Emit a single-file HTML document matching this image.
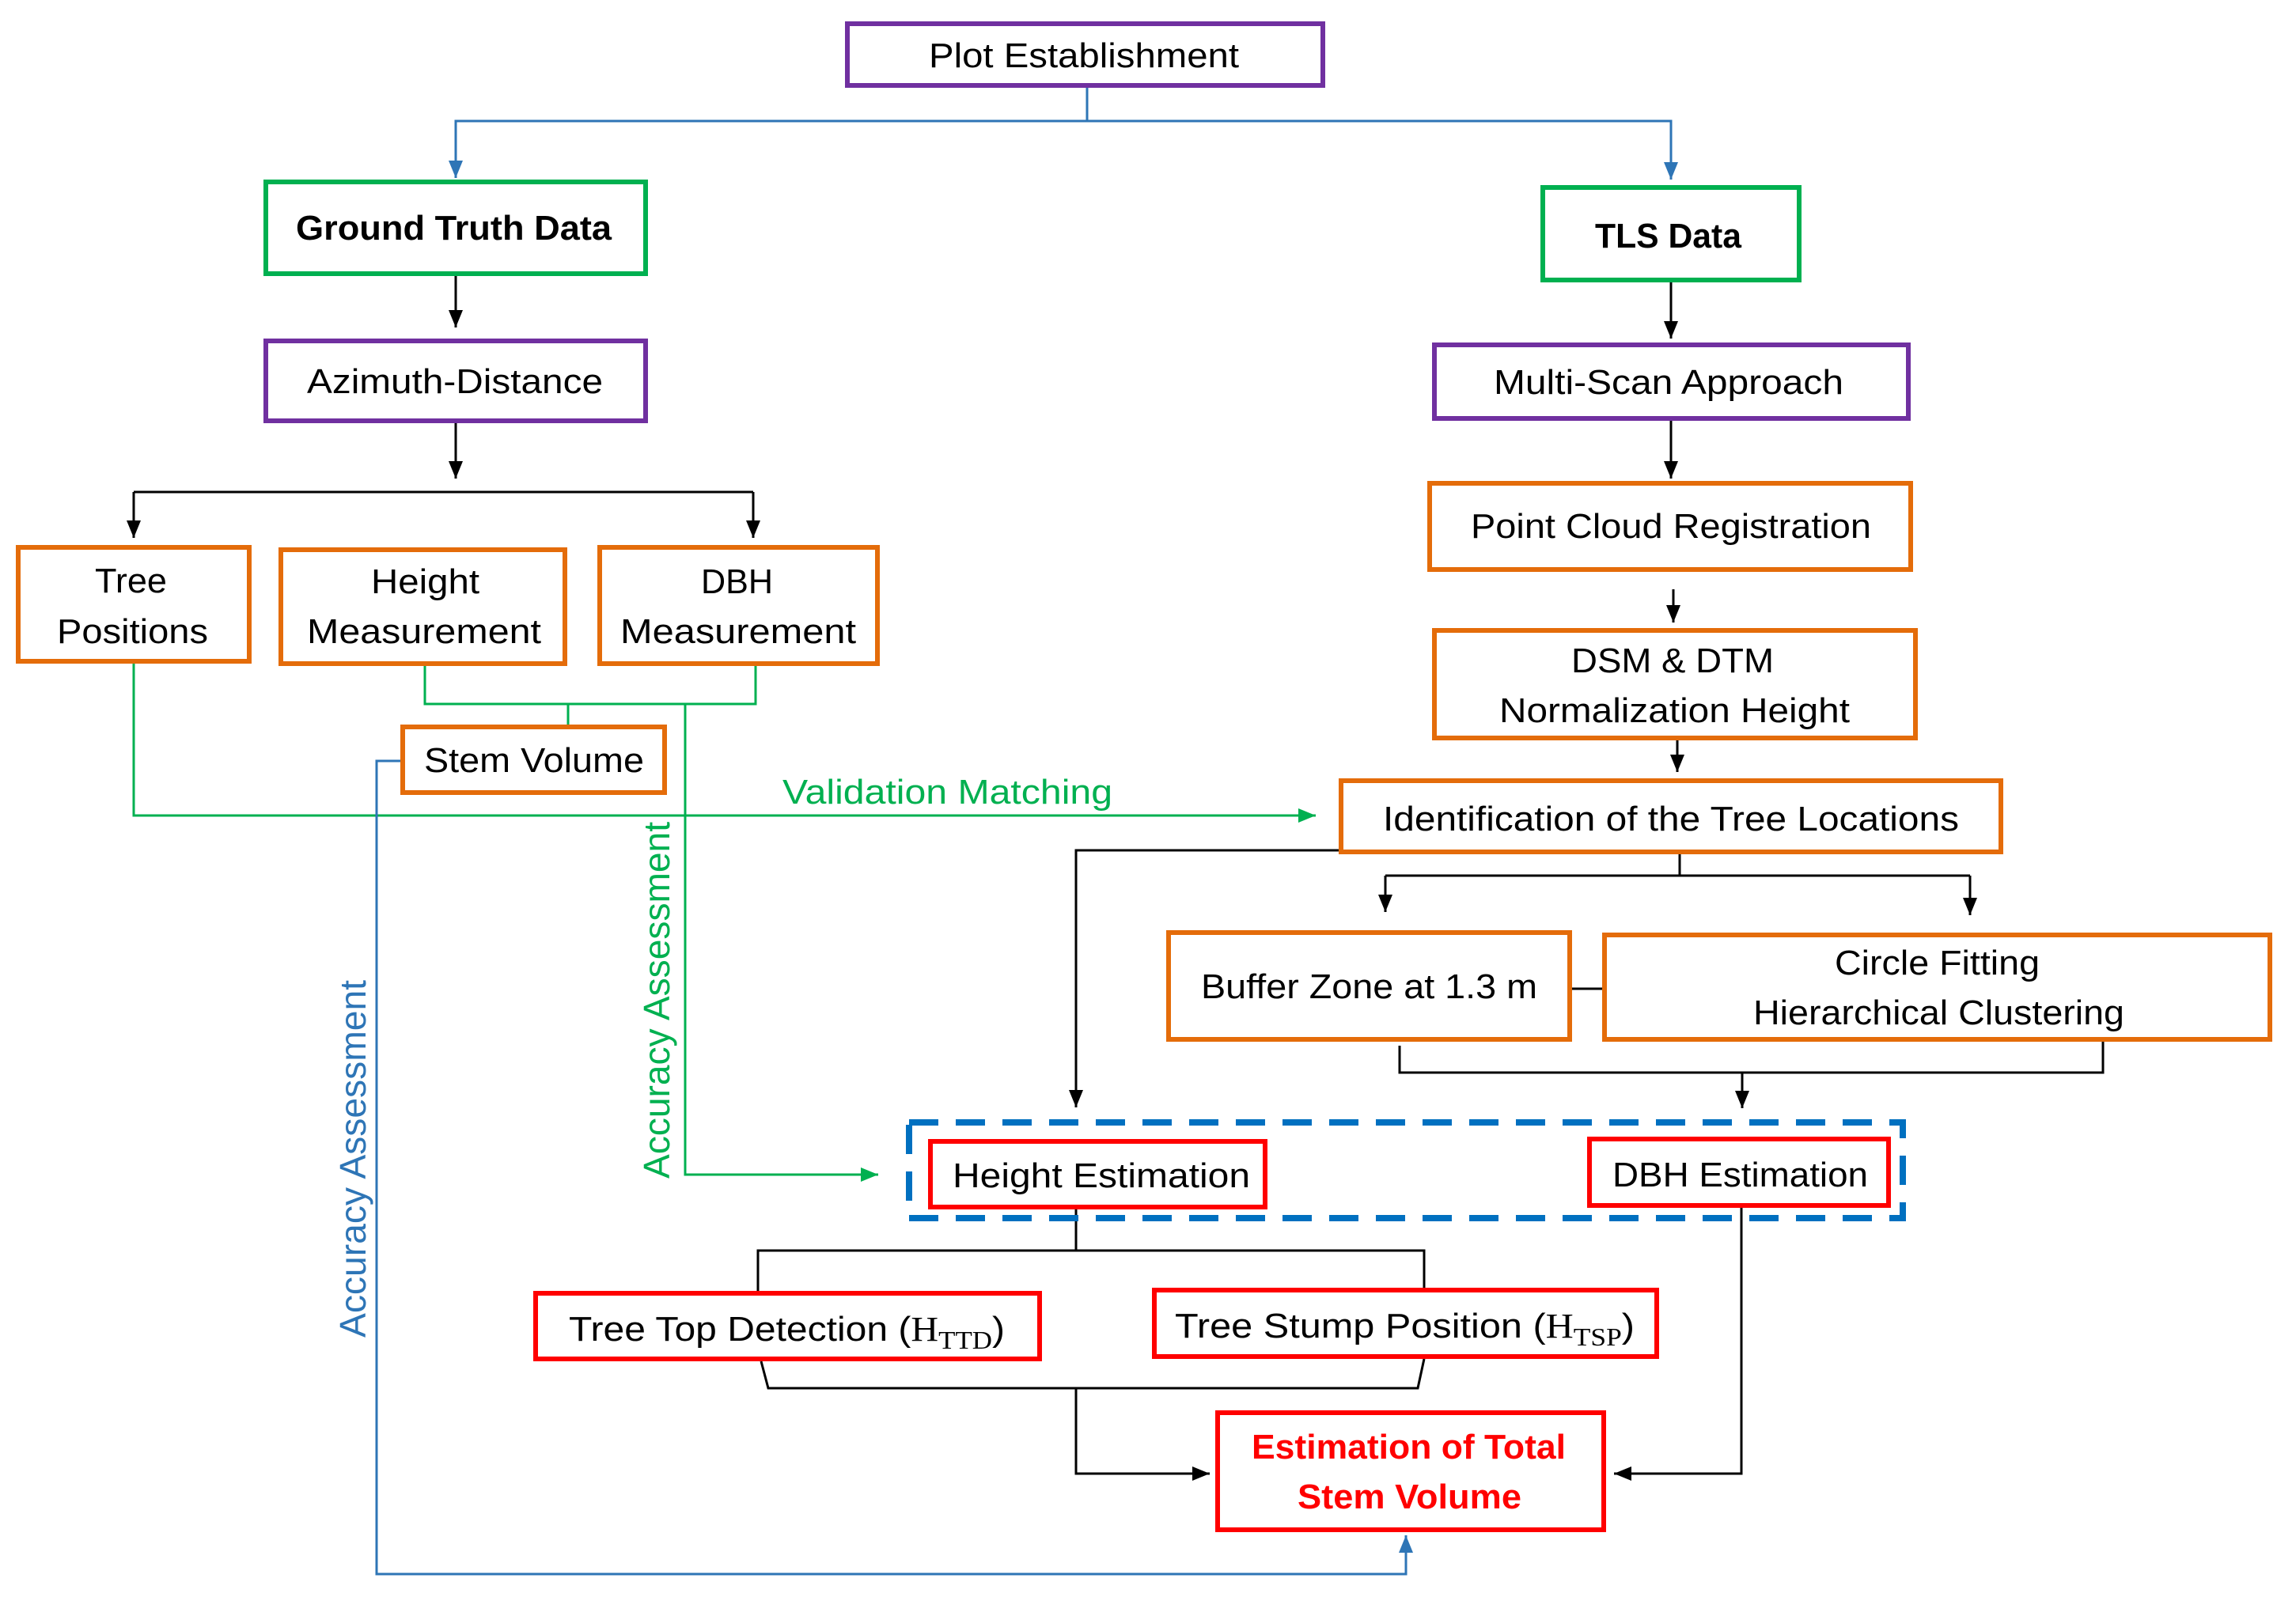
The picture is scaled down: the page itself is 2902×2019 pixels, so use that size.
<!DOCTYPE html>
<html><head><meta charset="utf-8"><style>
html,body{margin:0;padding:0;background:#fff;}
svg{display:block;}
text{font-family:"Liberation Sans",sans-serif;font-size:44px;fill:#000;}
</style></head><body>
<svg width="2902" height="2019" viewBox="0 0 2902 2019" xmlns="http://www.w3.org/2000/svg">
<defs>
<marker id="ak" markerUnits="userSpaceOnUse" markerWidth="24" markerHeight="18" refX="22" refY="9" orient="auto"><path d="M0,0 L22,9 L0,18 z" fill="#000"/></marker>
<marker id="ab" markerUnits="userSpaceOnUse" markerWidth="24" markerHeight="18" refX="22" refY="9" orient="auto"><path d="M0,0 L22,9 L0,18 z" fill="#2E75B6"/></marker>
<marker id="ag" markerUnits="userSpaceOnUse" markerWidth="24" markerHeight="18" refX="22" refY="9" orient="auto"><path d="M0,0 L22,9 L0,18 z" fill="#00B050"/></marker>
</defs>
<g fill="none" stroke-width="3">
<path d="M1374,111 V153 H576 V225" stroke="#2E75B6" marker-end="url(#ab)"/>
<path d="M1374,153 H2112 V227" stroke="#2E75B6" marker-end="url(#ab)"/>
<path d="M576,349 V414" stroke="#000" marker-end="url(#ak)"/>
<path d="M576,535 V605" stroke="#000" marker-end="url(#ak)"/>
<path d="M169,622 H952" stroke="#000"/>
<path d="M169,622 V680" stroke="#000" marker-end="url(#ak)"/>
<path d="M952,622 V680" stroke="#000" marker-end="url(#ak)"/>
<path d="M537,842 V890 H955 V842" stroke="#00B050"/>
<path d="M718,890 V916" stroke="#00B050"/>
<path d="M866,890 V1485 H1110" stroke="#00B050" marker-end="url(#ag)"/>
<path d="M169,839 V1031 H1663" stroke="#00B050" marker-end="url(#ag)"/>
<path d="M506,962 H476 V1990 H1777 V1941" stroke="#2E75B6" marker-end="url(#ab)"/>
<path d="M2112,357 V428" stroke="#000" marker-end="url(#ak)"/>
<path d="M2112,532 V605" stroke="#000" marker-end="url(#ak)"/>
<path d="M2115,745 V787" stroke="#000" marker-end="url(#ak)"/>
<path d="M2120,936 V976" stroke="#000" marker-end="url(#ak)"/>
<path d="M2123,1080 V1107" stroke="#000"/>
<path d="M1751,1107 H2490" stroke="#000"/>
<path d="M1751,1107 V1153" stroke="#000" marker-end="url(#ak)"/>
<path d="M2490,1107 V1157" stroke="#000" marker-end="url(#ak)"/>
<path d="M1692,1075 H1360 V1400" stroke="#000" marker-end="url(#ak)"/>
<path d="M1987,1250 H2025" stroke="#000"/>
<path d="M1769,1322 V1356 H2658 V1317" stroke="#000"/>
<path d="M2202,1356 V1401" stroke="#000" marker-end="url(#ak)"/>
<path d="M1360,1529 V1581" stroke="#000"/>
<path d="M958,1632 V1581 H1800 V1628" stroke="#000"/>
<path d="M962,1721 L971,1755 H1792 L1800,1718" stroke="#000"/>
<path d="M1360,1755 V1863 H1529" stroke="#000" marker-end="url(#ak)"/>
<path d="M2201,1527 V1863 H2040" stroke="#000" marker-end="url(#ak)"/>
</g>
<rect x="1149" y="1419" width="1256" height="121" fill="none" stroke="#0070C0" stroke-width="8" stroke-dasharray="37,22"/>
<g fill="#fff" stroke-width="6">
<rect x="1071" y="30" width="601" height="78" stroke="#7030A0"/>
<rect x="336" y="230" width="480" height="116" stroke="#00B050"/>
<rect x="336" y="431" width="480" height="101" stroke="#7030A0"/>
<rect x="23" y="692" width="292" height="144" stroke="#E46C0A"/>
<rect x="355" y="695" width="359" height="144" stroke="#E46C0A"/>
<rect x="758" y="692" width="351" height="147" stroke="#E46C0A"/>
<rect x="509" y="919" width="331" height="83" stroke="#E46C0A"/>
<rect x="1950" y="237" width="324" height="117" stroke="#00B050"/>
<rect x="1813" y="436" width="599" height="93" stroke="#7030A0"/>
<rect x="1807" y="611" width="608" height="109" stroke="#E46C0A"/>
<rect x="1813" y="797" width="608" height="136" stroke="#E46C0A"/>
<rect x="1695" y="987" width="834" height="90" stroke="#E46C0A"/>
<rect x="1477" y="1179" width="507" height="135" stroke="#E46C0A"/>
<rect x="2028" y="1182" width="841" height="132" stroke="#E46C0A"/>
<rect x="1176" y="1443" width="423" height="83" stroke="#FF0000"/>
<rect x="2009" y="1440" width="378" height="84" stroke="#FF0000"/>
<rect x="677" y="1635" width="637" height="83" stroke="#FF0000"/>
<rect x="1459" y="1631" width="635" height="84" stroke="#FF0000"/>
<rect x="1539" y="1786" width="488" height="148" stroke="#FF0000"/>
</g>
<g>
<text x="1174" y="85" textLength="392" lengthAdjust="spacingAndGlyphs">Plot Establishment</text>
<text x="374" y="303" textLength="399" lengthAdjust="spacingAndGlyphs" font-weight="bold">Ground Truth Data</text>
<text x="388" y="497" textLength="374" lengthAdjust="spacingAndGlyphs">Azimuth-Distance</text>
<text x="120" y="749" textLength="91" lengthAdjust="spacingAndGlyphs">Tree</text>
<text x="72" y="813" textLength="191" lengthAdjust="spacingAndGlyphs">Positions</text>
<text x="469" y="750" textLength="137" lengthAdjust="spacingAndGlyphs">Height</text>
<text x="388" y="813" textLength="296" lengthAdjust="spacingAndGlyphs">Measurement</text>
<text x="886" y="750" textLength="91" lengthAdjust="spacingAndGlyphs">DBH</text>
<text x="784" y="813" textLength="298" lengthAdjust="spacingAndGlyphs">Measurement</text>
<text x="536" y="976" textLength="278" lengthAdjust="spacingAndGlyphs">Stem Volume</text>
<text x="989" y="1016" textLength="417" lengthAdjust="spacingAndGlyphs" style="fill:#00B050">Validation Matching</text>
<text x="2016" y="313" textLength="185" lengthAdjust="spacingAndGlyphs" font-weight="bold">TLS Data</text>
<text x="1888" y="498" textLength="442" lengthAdjust="spacingAndGlyphs">Multi-Scan Approach</text>
<text x="1859" y="680" textLength="506" lengthAdjust="spacingAndGlyphs">Point Cloud Registration</text>
<text x="1986" y="850" textLength="256" lengthAdjust="spacingAndGlyphs">DSM &amp; DTM</text>
<text x="1895" y="913" textLength="443" lengthAdjust="spacingAndGlyphs">Normalization Height</text>
<text x="1748" y="1050" textLength="728" lengthAdjust="spacingAndGlyphs">Identification of the Tree Locations</text>
<text x="1518" y="1262" textLength="425" lengthAdjust="spacingAndGlyphs">Buffer Zone at 1.3 m</text>
<text x="2319" y="1232" textLength="259" lengthAdjust="spacingAndGlyphs">Circle Fitting</text>
<text x="2216" y="1295" textLength="469" lengthAdjust="spacingAndGlyphs">Hierarchical Clustering</text>
<text x="1204" y="1501" textLength="376" lengthAdjust="spacingAndGlyphs">Height Estimation</text>
<text x="2038" y="1500" textLength="323" lengthAdjust="spacingAndGlyphs">DBH Estimation</text>
<text x="719" y="1695" textLength="551" lengthAdjust="spacingAndGlyphs">Tree Top Detection (<tspan font-family="Liberation Serif">H</tspan><tspan font-family="Liberation Serif" font-size="32" dy="10">TTD</tspan><tspan dy="-10">)</tspan></text>
<text x="1485" y="1691" textLength="581" lengthAdjust="spacingAndGlyphs">Tree Stump Position (<tspan font-family="Liberation Serif">H</tspan><tspan font-family="Liberation Serif" font-size="32" dy="10">TSP</tspan><tspan dy="-10">)</tspan></text>
<text x="1582" y="1844" textLength="397" lengthAdjust="spacingAndGlyphs" font-weight="bold" style="fill:#FF0000">Estimation of Total</text>
<text x="1640" y="1907" textLength="283" lengthAdjust="spacingAndGlyphs" font-weight="bold" style="fill:#FF0000">Stem Volume</text>
<text transform="translate(846,1490) rotate(-90)" x="0" y="0" textLength="451" lengthAdjust="spacingAndGlyphs" style="fill:#00B050;font-size:46px">Accuracy Assessment</text>
<text transform="translate(462,1691) rotate(-90)" x="0" y="0" textLength="452" lengthAdjust="spacingAndGlyphs" style="fill:#2E75B6;font-size:46px">Accuracy Assessment</text>
</g>
</svg>
</body></html>
